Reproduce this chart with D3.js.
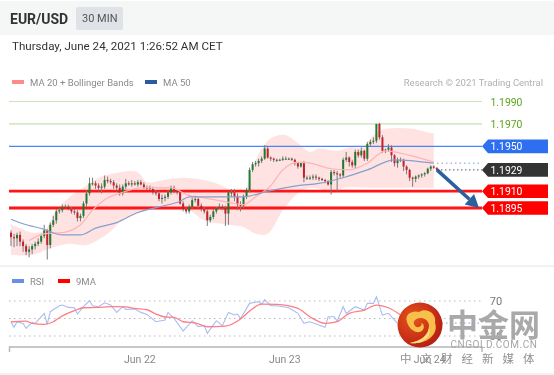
<!DOCTYPE html>
<html><head><meta charset="utf-8">
<style>html,body{margin:0;padding:0;background:#fff;overflow:hidden}svg{display:block;filter:blur(.3px)}text{font-family:Roboto,sans-serif}</style>
<script src="https://cdnjs.cloudflare.com/ajax/libs/d3/7.8.5/d3.min.js"></script>
</head><body><svg id="c" width="554" height="375"></svg>
<script>
const closes=[1.1869,1.1868,1.1871,1.1865,1.1861,1.1856,1.1858,1.1861,1.1863,1.1865,1.1870,1.1875,1.1862,1.1880,1.1884,1.1892,1.1893,1.1896,1.1896,1.1894,1.1892,1.1891,1.1886,1.1888,1.1899,1.1908,1.1917,1.1917,1.1915,1.1913,1.1914,1.1920,1.1919,1.1918,1.1915,1.1913,1.1908,1.1914,1.1917,1.1916,1.1917,1.1916,1.1918,1.1916,1.1913,1.1913,1.1912,1.1909,1.1908,1.1903,1.1904,1.1905,1.1909,1.1913,1.1910,1.1909,1.1899,1.1894,1.1892,1.1896,1.1902,1.1903,1.1897,1.1894,1.1892,1.1884,1.1887,1.1892,1.1895,1.1896,1.1895,1.1890,1.1909,1.1909,1.1905,1.1898,1.1897,1.1905,1.1911,1.1929,1.1934,1.1935,1.1937,1.1939,1.1948,1.1940,1.1939,1.1938,1.1938,1.1938,1.1939,1.1939,1.1939,1.1938,1.1935,1.1932,1.1935,1.1922,1.1922,1.1922,1.1923,1.1922,1.1921,1.1920,1.1919,1.1916,1.1927,1.1926,1.1925,1.1924,1.1938,1.1940,1.1936,1.1933,1.1945,1.1942,1.1946,1.1939,1.1952,1.1954,1.1955,1.1970,1.1958,1.1946,1.1947,1.1949,1.1942,1.1935,1.1938,1.1938,1.1932,1.1929,1.1922,1.1921,1.1923,1.1924,1.1925,1.1926,1.1930,1.1932,1.1931,1.1929];
const firstOpen=1.1873;
const wickUpPips=[2,3,2,3,2,2,3,2,2,3,2,5,1,2,4,2,2,2,2,2,2,2,2,2,2,3,5,5,2,2,3,4,3,2,2,2,3,2,4,2,3,2,2,2,2,2,2,2,2,2,3,2,2,2,2,1,1,2,2,2,2,3,1,2,2,2,2,2,1,3,2,2,1,3,3,3,3,2,2,2,2,2,2,2,3,2,1,1,1,1,2,2,1,1,1,1,1,2,2,2,2,2,1,1,1,1,2,2,2,1,2,5,1,2,2,2,3,1,2,2,3,0,1,2,1,3,2,1,2,2,1,1,1,1,1,1,1,1,1,1,1,0];
const wickDownPips=[8,8,7,4,5,3,5,4,3,2,2,2,13,3,2,3,2,2,1,1,2,2,3,3,2,3,2,2,3,3,5,2,2,2,3,3,2,2,2,1,2,1,2,1,1,2,1,2,2,2,4,3,2,2,2,2,1,2,2,2,2,2,2,2,2,5,2,2,2,1,2,11,10,4,4,5,5,2,2,2,2,2,3,2,1,1,2,2,2,1,1,1,1,1,2,2,1,4,2,2,2,2,2,1,2,1,9,2,15,2,2,2,4,2,3,2,2,2,2,2,2,2,2,2,2,2,6,3,4,2,4,4,3,7,3,2,2,2,1,2,1,1];
const upperBars=[0,3,7,11,15,19,25,29,36,42,45,49,53,58,67,73,77,81,86,91,95,99,102,108,112,116,122,132,139,140];
const upperBand=[1.1880,1.1877,1.1873,1.1875,1.1893,1.1904,1.1915,1.1922,1.1927,1.1927,1.1918,1.1919,1.1921,1.1922,1.1918,1.1911,1.1909,1.1938,1.1957,1.1960,1.1953,1.1945,1.1948,1.1946,1.1949,1.1949,1.1964,1.1966,1.1962,1.1962];
const lowerBars=[0,7,13,19,25,32,37,45,53,58,64,72,77,81,85,90,95,99,108,110,121,140];
const lowerBand=[1.1853,1.1853,1.1859,1.1863,1.1862,1.1872,1.1884,1.1893,1.1897,1.1895,1.1884,1.1880,1.1878,1.1872,1.1872,1.1893,1.1908,1.1913,1.1909,1.1913,1.1913,1.1913];
const ma20Bars=[6,11,17,23,27,32,36,43,49,53,59,64,72,77,81,86,90,95,99,106,112,118,124,132,140];
const ma20=[1.1866,1.1872,1.1873,1.1880,1.1893,1.1904,1.1908,1.1913,1.1913,1.1913,1.1906,1.1904,1.1900,1.1898,1.1905,1.1915,1.1929,1.1936,1.1935,1.1930,1.1929,1.1935,1.1946,1.1942,1.1936];
const ma50Bars=[0,4,11,17,23,28,35,42,49,56,59,66,77,85,95,102,110,118,127,140];
const ma50=[1.1885,1.1881,1.1876,1.1871,1.1871,1.1877,1.1882,1.1891,1.1896,1.1901,1.1905,1.1905,1.1905,1.1910,1.1915,1.1917,1.1922,1.1929,1.1938,1.1935];
const rsiBars=[0,1,2,4,5,7,8,11,12,13,16,17,19,21,22,24,26,27,29,31,33,35,37,38,41,43,45,48,51,52,54,57,60,62,64,65,68,70,72,74,75,76,79,82,83,84,86,88,92,95,97,99,104,105,107,108,110,111,114,117,118,120,121,123,125,128];
const rsi=[46.3,39.9,46.3,44.4,38.7,45.6,44.4,55.9,43.3,57.8,64.6,65.4,62.7,62.3,55.1,63.5,70.3,64.6,63.5,68,65.4,57,63.5,60.4,60.8,57,54.7,46.3,48.2,57,50.1,35.7,47.5,40.6,41.8,33,47.5,41.8,57,54,55.1,50.1,67.3,69.2,66.1,71.5,64.6,64.6,62.3,55.9,44.4,46.3,39.9,52,52,47.1,63.5,55.9,63.5,59.7,67.3,67.3,74.9,53.9,55.9,44.4];
const maRsiBars=[0,5,7,11,14,16,21,24,29,33,38,41,45,48,51,54,57,61,65,71,76,79,83,88,95,99,104,108,112,117,121,125,129];
const maRsi=[46.3,47.1,44.4,43.3,46.3,50.9,58.9,62.3,62.7,63.5,63.2,61.5,60,55,51.7,51.3,46.3,45,40.6,41.3,49.4,58.5,66.5,66.1,61.5,52,44.4,46.3,55.9,59.7,65.4,62.3,54];
const levels=[1.1990,1.1970,1.1950,1.1929,1.1910,1.1895];
const levelLabels=["1.1990","1.1970","1.1950","1.1929","1.1910","1.1895"];
const dayBars=[42,90,138];
const dayLabels=["Jun 22","Jun 23","Jun 24"];
const rsiTicks=[70,50,30];

const svg=d3.select("#c");
const x=d3.scaleLinear().domain([0,141]).range([11,436.8]);
const y=d3.scaleLinear().domain([1.1990,1.1895]).range([101.5,208]);
const yR=d3.scaleLinear().domain([70,30]).range([301,336]);
const L=9,R=482;
const T=(s,a,b,o={})=>svg.append("text").attr("x",a).attr("y",b).attr("font-size",o.size||11).attr("fill",o.fill||"#555").attr("font-weight",o.w||400).attr("text-anchor",o.anchor||"start").attr("letter-spacing",o.ls||0).attr("dominant-baseline","central").text(s);

svg.append("rect").attr("x",0).attr("y",1).attr("width",554).attr("height",34).attr("fill","#f5f6f6");
svg.append("rect").attr("x",76).attr("y",7).attr("width",47).attr("height",23).attr("rx",2).attr("fill","#dfe2e7");
svg.append("rect").attr("x",0).attr("y",265).attr("width",554).attr("height",2).attr("fill","#f1f3f3");
svg.append("rect").attr("x",0).attr("y",373).attr("width",554).attr("height",2).attr("fill","#f1f3f3");
T("EUR/USD",10,19,{size:14,w:700,fill:"#333"});
T("30 MIN",82,18.5,{size:11,fill:"#555"});
T("Thursday, June 24, 2021 1:26:52 AM CET",12,46,{size:11.6,fill:"#333"});
svg.append("rect").attr("x",12).attr("y",80).attr("width",12).attr("height",4).attr("fill","#ff8a8a");
T("MA 20 + Bollinger Bands",30,82,{size:9.5,fill:"#8a8a8a"});
svg.append("rect").attr("x",145).attr("y",80).attr("width",12).attr("height",4).attr("fill","#2d5b9e");
T("MA 50",163,82,{size:9.5,fill:"#8a8a8a"});
T("Research © 2021 Trading Central",543,82,{size:9.5,fill:"#b0b0b0",anchor:"end"});

const lineFn=d3.line().curve(d3.curveMonotoneX);
const upper=upperBars.map((b,i)=>[x(b),y(upperBand[i])]);
const lower=lowerBars.map((b,i)=>[x(b),y(lowerBand[i])]).reverse();
const lowerCurve=d3.line().curve(d3.curveCatmullRom)(lower);
svg.append("path").attr("fill","#ffe3e3")
 .attr("d",d3.line().curve(d3.curveCatmullRom)(upper)+"L"+lowerCurve.slice(1)+"Z");

const lv=[["#cbe3b8",1.2],["#c5e0b0",1.4],["#4d86f0",1.2],null,["#ff1515",2.8],["#ff1515",2.8]];
levels.forEach((v,i)=>{ if(lv[i]) svg.append("line").attr("x1",L).attr("x2",R).attr("y1",y(v)).attr("y2",y(v)).attr("stroke",lv[i][0]).attr("stroke-width",lv[i][1]);});

const opens=closes.map((c,i)=>i?closes[i-1]:firstOpen);
const g=svg.append("g");
closes.forEach((c,i)=>{
  const o=opens[i],hi=Math.max(o,c)+wickUpPips[i]*1e-4,lo=Math.min(o,c)-wickDownPips[i]*1e-4;
  g.append("line").attr("x1",x(i)).attr("x2",x(i)).attr("y1",y(hi)).attr("y2",y(lo)).attr("stroke","#7a7a7a").attr("stroke-width",1);
  const t=Math.min(y(o),y(c)),h=Math.max(1,Math.abs(y(o)-y(c)));
  g.append("rect").attr("x",x(i)-1).attr("width",2).attr("y",t).attr("height",h).attr("fill",c>=o?"#1f7a2e":"#c4202a");
});
svg.append("path").attr("fill","none").attr("stroke","#ffb3b3").attr("stroke-width",1.2).attr("d",lineFn(ma20Bars.map((b,i)=>[x(b),y(ma20[i])])));
svg.append("path").attr("fill","none").attr("stroke","#86a0cc").attr("stroke-width",1.2).attr("d",lineFn(ma50Bars.map((b,i)=>[x(b),y(ma50[i])])));

svg.append("line").attr("x1",437).attr("x2",R).attr("y1",y(1.1935)).attr("y2",y(1.1935)).attr("stroke","#7d9bd0").attr("stroke-dasharray","1.5 3");
svg.append("line").attr("x1",437).attr("x2",R).attr("y1",y(1.1929)).attr("y2",y(1.1929)).attr("stroke","#555").attr("stroke-dasharray","1.5 2.5");

const labelStyle=[{t:"#5aa51e"},{t:"#5aa51e"},{bg:"#2e6ff2"},{bg:"#333"},{bg:"#ff0000"},{bg:"#ff0000"}];
levels.forEach((v,i)=>{
  const yy=y(v),s=labelStyle[i];
  if(s.bg) svg.append("path").attr("fill",s.bg).attr("d",d3.line()([[482,yy],[488,yy-6.8],[548,yy-6.8],[548,yy+6.8],[488,yy+6.8]])+"Z");
  T(levelLabels[i],490.5,yy+.5,{size:10.4,fill:s.bg?"#fff":s.t});
});

const ax0=437,ay0=y(1.1929),ax1=479,ay1=y(1.1895);
const ang=Math.atan2(ay1-ay0,ax1-ax0);
const hb=[ax1-13*Math.cos(ang),ay1-13*Math.sin(ang)];
svg.append("line").attr("x1",ax0).attr("y1",ay0).attr("x2",hb[0]).attr("y2",hb[1]).attr("stroke","#2c5f9e").attr("stroke-width",3.6);
svg.append("path").attr("fill","#2c5f9e").attr("d",d3.line()([[ax1,ay1],[hb[0]-7*Math.sin(ang),hb[1]+7*Math.cos(ang)],[hb[0]+7*Math.sin(ang),hb[1]-7*Math.cos(ang)]])+"Z");

svg.append("rect").attr("x",12).attr("y",279).attr("width",12).attr("height",4).attr("fill","#6a8fe6");
T("RSI",30,281,{size:9.5,fill:"#8a8a8a"});
svg.append("rect").attr("x",58).attr("y",279).attr("width",12).attr("height",4).attr("fill","#ff0000");
T("9MA",76,281,{size:9.5,fill:"#8a8a8a"});
rsiTicks.forEach(v=>{
  svg.append("line").attr("x1",L).attr("x2",R).attr("y1",yR(v)).attr("y2",yR(v)).attr("stroke","#bbb").attr("stroke-dasharray","1.5 3.5");
});
T("70",496,301,{size:11,fill:"#777",anchor:"middle"});
T("30",496,336,{size:11,fill:"#777",anchor:"middle"});
svg.append("line").attr("x1",437).attr("x2",R).attr("y1",323).attr("y2",323).attr("stroke","#7d9bd0").attr("stroke-dasharray","1.5 3");
svg.append("path").attr("fill","none").attr("stroke","#a9bdf0").attr("stroke-width",1.1).attr("d",d3.line()(rsiBars.map((b,i)=>[x(b),yR(rsi[i])])));
svg.append("path").attr("fill","none").attr("stroke","#ff7d85").attr("stroke-width",1.3).attr("d",lineFn(maRsiBars.map((b,i)=>[x(b),yR(maRsi[i])])));
svg.append("path").attr("fill","none").attr("stroke","#b5b5b5").attr("stroke-width",1.4).attr("d","M9.5,352V347H482V352");
dayBars.forEach((b,i)=>T(dayLabels[i],x(b)+2,359.5,{size:10.5,fill:"#888",anchor:"middle"}));

const defs=svg.append("defs");
const gr=defs.append("radialGradient").attr("id","lg").attr("cx","35%").attr("cy","35%").attr("r","75%");
gr.append("stop").attr("offset","0%").attr("stop-color","#e8531c");
gr.append("stop").attr("offset","100%").attr("stop-color","#b31a12");
svg.append("circle").attr("cx",420).attr("cy",325).attr("r",22.5).attr("fill","url(#lg)");
const w=svg.append("g").attr("transform","translate(420,325)");
w.append("path").attr("fill","#f8c04a").attr("d","M-13,-3C-16,-12 -6,-15 -1,-13C6,-18 17,-12 15,-2C19,8 8,20 -10,18C1,16 9,10 9,0C8,-7 -1,-9 -5,-5C-8,-2 -5,3 -1,2C2,1 2,-1 1,-2C5,-1 5,5 0,7C-5,8 -11,4 -13,-3Z");
w.append("path").attr("fill","#fde18a").attr("d","M-10,18C1,16 9,10 9,3C12,10 4,20 -10,18Z");
T("中金网",493.5,322,{size:31,w:700,fill:"#a9a9a9",anchor:"middle"}).style("font-family","'Noto Sans CJK SC',sans-serif");
T("CNGOLD.COM.CN",494,344.5,{size:10,fill:"#a6a6a6",anchor:"middle",ls:.55});
T("中文财经新媒体",400,357.5,{size:11.5,fill:"#8f8f8f",ls:9}).style("font-family","'Noto Sans CJK SC',sans-serif");
</script></body></html>
